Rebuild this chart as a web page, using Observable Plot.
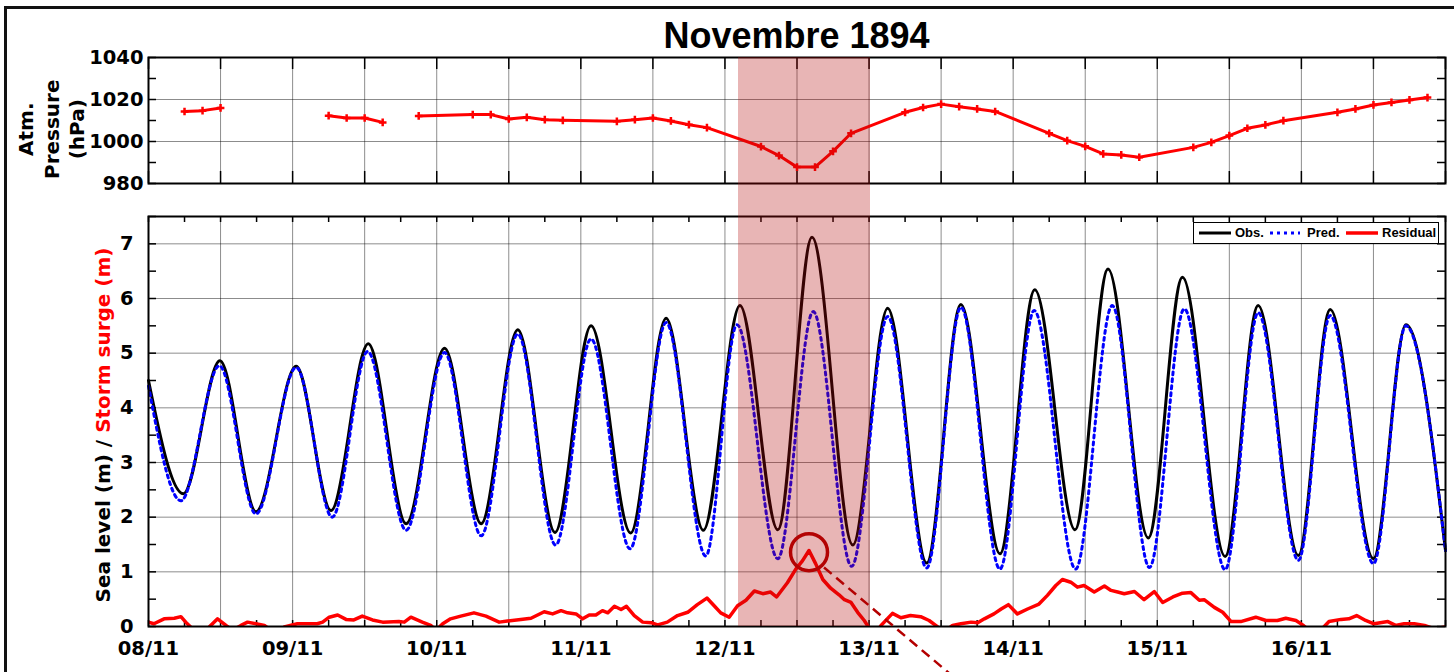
<!DOCTYPE html>
<html><head><meta charset="utf-8">
<script src="https://cdn.jsdelivr.net/npm/d3@7"></script>
<script src="https://cdn.jsdelivr.net/npm/@observablehq/plot@0.6"></script>
<style>
html,body{margin:0;padding:0;background:#fff;}
#wrap{position:relative;width:1454px;height:672px;overflow:hidden;background:#fff;}
.abs{position:absolute;}
#title{font-family:"Liberation Sans",Arial,sans-serif;font-weight:bold;font-size:36px;line-height:36px;text-align:center;}
.ylab{font-family:"DejaVu Sans",sans-serif;font-weight:bold;font-size:20px;text-align:center;transform:rotate(-90deg);transform-origin:50% 50%;white-space:nowrap;}
#legend{background:#fff;border:1.5px solid #000;box-sizing:border-box;font-family:"Liberation Sans",Arial,sans-serif;font-weight:bold;font-size:13px;}
#legend span{position:absolute;top:3px;line-height:14px;}
#legend svg{position:absolute;top:0;}
</style></head><body><div id="wrap"></div>
<script>
// ---- Atmospheric pressure (hPa), hours since 08/11/1894 00:00 (null = no reading, line break)
const pressureHours = [6,9,12,21,30,33,36,39,42,45,54,57,60,63,66,69,78,81,84,87,90,93,102,105,108,111,114,117,126,129,132,135,138,141,150,153,156,159,162,165,174,177,180,183,186,189,198,201,204,207,210,213];
const pressureHPa = [1014.3,1014.7,1016.0,null,1012.3,1011.2,1011.2,1009.1,null,1012.2,1012.8,1012.8,1010.7,1011.5,1010.4,1010.1,1009.6,1010.4,1011.2,1009.8,1008.0,1006.6,997.6,993.3,987.8,987.8,995.3,1003.9,1013.9,1016.2,1017.8,1016.6,1015.5,1014.3,1003.9,1000.4,997.7,994.1,993.6,992.5,997.2,999.6,1002.8,1006.3,1007.9,1009.9,1013.9,1015.5,1017.4,1018.6,1019.8,1020.9];

// ---- Observed sea level (m): high and low waters
const obsHours = [0,5.8,11.9,17.9,24.6,30.4,36.6,42.9,49.3,55.4,61.5,67.7,73.7,80.3,86.2,92.4,98.5,104.8,110.5,117.3,123.1,129.6,135.3,141.8,147.6,154.3,159.8,166.5,172.2,179.3,184.8,191.5,196.8,204.0,209.4,216];
const obsLevels = [4.50,2.43,4.86,2.10,4.76,2.12,5.17,1.88,5.09,1.88,5.43,1.72,5.50,1.71,5.64,1.76,5.87,1.77,7.12,1.49,5.82,1.16,5.89,1.33,6.16,1.77,6.54,1.62,6.39,1.28,5.87,1.30,5.80,1.24,5.52,1.39];

// ---- Predicted tide (m): high and low waters
const predHours = [0,5.4,11.8,17.9,24.6,30.6,36.5,42.9,49.3,55.4,61.5,67.8,73.7,80.2,86.2,92.8,98.0,104.8,110.7,117.1,123.1,129.6,135.3,141.8,147.5,154.4,160.5,166.7,172.5,179.3,184.8,191.5,196.8,204.0,209.4,216];
const predLevels = [4.40,2.30,4.77,2.06,4.74,2.00,5.03,1.76,5.01,1.66,5.35,1.49,5.26,1.42,5.56,1.29,5.52,1.24,5.76,1.10,5.67,1.07,5.84,1.05,5.78,1.05,5.87,1.08,5.81,1.04,5.74,1.21,5.69,1.15,5.50,1.39];

// ---- Residual / storm surge (m)
const residualHours = [0,0.9,2.6,4.3,5.4,6.2,7.3,8.7,10.1,11.5,12.9,14.0,15.4,16.5,17.9,19.3,20.4,21.5,22.6,24.8,28.1,29.0,30.1,31.5,32.9,34.2,35.6,37.3,39.0,41.7,42.6,43.7,45.6,47.0,47.9,49.0,50.3,52.0,54.2,56.2,58.4,59.8,62.0,63.7,65.9,67.3,68.7,69.8,71.2,72.3,73.4,74.5,75.6,76.5,77.6,78.7,79.6,80.9,82.3,83.7,84.8,86.4,88.1,89.8,91.4,93.0,94.2,95.3,96.7,98.1,99.5,100.9,102.3,103.6,104.6,106.4,107.8,108.9,110.0,111.1,112.3,113.6,115.0,115.9,117.0,118.1,119.2,119.9,120.9,122.0,123.9,125.3,126.9,128.6,130.0,131.1,132.5,133.9,135.3,137.0,138.1,139.2,140.8,142.0,143.2,144.7,146.4,148.3,149.7,151.1,152.2,153.6,154.7,155.8,157.5,159.2,160.3,161.4,162.5,164.2,165.8,167.5,168.9,170.6,172.2,173.6,175.0,175.8,177.5,178.9,180.3,181.9,184.4,186.1,188.0,189.4,191.1,192.2,193.6,195.2,196.6,198.6,199.9,201.2,202.7,204.1,206.4,207.7,209.1,210.8,212.5,214.1,216];
const residualMeters = [0.08,0.05,0.14,0.15,0.18,0.08,-0.04,-0.13,-0.01,0.14,0.02,-0.07,0.02,0.08,0.05,0.02,-0.07,-0.13,-0.01,0.05,0.05,0.08,0.17,0.21,0.13,0.12,0.19,0.12,0.08,0.09,0.08,0.17,0.08,0.02,-0.07,0.05,0.14,0.19,0.25,0.19,0.08,0.10,0.13,0.15,0.27,0.23,0.29,0.25,0.23,0.14,0.21,0.21,0.29,0.25,0.37,0.31,0.37,0.20,0.08,0.07,0.03,0.08,0.20,0.26,0.40,0.52,0.38,0.25,0.17,0.38,0.48,0.65,0.60,0.63,0.54,0.80,1.05,1.20,1.39,1.15,0.86,0.70,0.58,0.49,0.44,0.26,0.11,-0.01,-0.16,0.02,0.24,0.16,0.20,0.18,0.11,0.02,-0.10,0.02,0.05,0.08,0.07,0.14,0.23,0.32,0.40,0.23,0.32,0.41,0.57,0.75,0.86,0.81,0.72,0.75,0.63,0.74,0.66,0.63,0.60,0.64,0.49,0.64,0.44,0.54,0.61,0.62,0.48,0.49,0.35,0.26,0.09,0.09,0.17,0.11,0.11,0.15,0.11,0.03,-0.10,-0.07,0.09,0.13,0.14,0.20,0.11,0.05,0.09,0.02,0.05,0.05,0.02,-0.04,-0.01];

// ---- Annotations
const stormWindowHours = [98.3, 120.2];
const surgePeakHour = [110.0];
const surgePeakLevel = [1.36];
const pointerHours = [112.5, 134.8];
const pointerLevels = [1.08, -0.99];

// ---- Axis ticks
const pressureTicks = [980, 1000, 1020, 1040];
const pressureGrid = [1000, 1020];
const levelTicks = [0, 1, 2, 3, 4, 5, 6, 7];
const dayLabelHours = [0, 24, 48, 72, 96, 120, 144, 168, 192];
const titleText = "Novembre 1894";

// ---- Build
const t0 = Date.UTC(1894, 10, 8);
const toDate = h => new Date(t0 + h * 3600e3);
const xDomain = [toDate(0), toDate(216)];
const pressure = pressureHours.map((h, i) => ({t: toDate(h), p: pressureHPa[i]}));
const obs = obsHours.map((h, i) => ({t: toDate(h), v: obsLevels[i]}));
const pred = predHours.map((h, i) => ({t: toDate(h), v: predLevels[i]}));
const residual = residualHours.map((h, i) => ({t: toDate(h), v: residualMeters[i]}));
const gridHalfDays = d3.range(12, 216, 12).map(toDate);
const every12h = d3.range(0, 217, 12).map(toDate);
const every6h = d3.range(0, 217, 6).map(toDate);
const dayTicks = dayLabelHours.map(toDate);

const W = 1454, ML = 148, MR = 9;
const FW = W - ML - MR;
const font = {fontFamily: "DejaVu Sans, sans-serif", fontWeight: "bold", fontSize: "19.5px", color: "#000", background: "transparent", overflow: "visible"};
const gridStyle = {stroke: "#000", strokeOpacity: 0.45, strokeWidth: 1};
const tickStyle = {stroke: "#000", strokeWidth: 1.5};
const plain = d => String(d);

// Top panel: pressure
const TH = 200, TMT = 57, TMB = 17, TFH = TH - TMT - TMB;
const topPlot = Plot.plot({
  width: W, height: TH, marginLeft: ML, marginRight: MR, marginTop: TMT, marginBottom: TMB,
  style: font,
  x: {type: "utc", domain: xDomain, axis: null},
  y: {domain: [980, 1040]},
  marks: [
    Plot.gridX(gridHalfDays, {x: d => d, ...gridStyle}),
    Plot.gridY(pressureGrid, {y: d => d, ...gridStyle}),
    Plot.tickY(d3.range(980, 1041, 10), {y: d => d, insetRight: FW - 8, ...tickStyle}),
    Plot.tickY(d3.range(980, 1041, 10), {y: d => d, insetLeft: FW - 8, ...tickStyle}),
    Plot.tickX(every12h, {x: d => d, insetBottom: TFH - 12, ...tickStyle}),
    Plot.tickX(every12h, {x: d => d, insetTop: TFH - 12, ...tickStyle}),
    Plot.line(pressure, {x: "t", y: "p", stroke: "#ff0000", strokeWidth: 3}),
    Plot.dot(pressure.filter(d => d.p != null), {x: "t", y: "p", symbol: "plus", stroke: "#ff0000", fill: "none", strokeWidth: 2.5, r: 2.6}),
    Plot.axisY(pressureTicks, {tickSize: 0, tickPadding: 5, tickFormat: plain, label: null}),
    Plot.frame({stroke: "#000", strokeWidth: 2})
  ]
});

// Lower panel: sea level
const LH = 472, LMT = 16, LMB = 46, LFH = LH - LMT - LMB, LTOP = 200;
const lowPlot = Plot.plot({
  width: W, height: LH, marginLeft: ML, marginRight: MR, marginTop: LMT, marginBottom: LMB,
  style: font,
  x: {type: "utc", domain: xDomain},
  y: {domain: [0, 7.5]},
  marks: [
    Plot.gridX(gridHalfDays, {x: d => d, ...gridStyle}),
    Plot.gridY(levelTicks.slice(1), {y: d => d, ...gridStyle}),
    Plot.tickY(d3.range(0, 7.51, 0.5), {y: d => d, insetRight: FW - 8, ...tickStyle}),
    Plot.tickY(d3.range(0, 7.51, 0.5), {y: d => d, insetLeft: FW - 8, ...tickStyle}),
    Plot.tickX(every6h, {x: d => d, insetBottom: LFH - 6, ...tickStyle}),
    Plot.tickX(every6h, {x: d => d, insetTop: LFH - 6, ...tickStyle}),
    Plot.line(obs, {x: "t", y: "v", stroke: "#000", strokeWidth: 3, curve: "monotone-x"}),
    Plot.line(pred, {x: "t", y: "v", stroke: "#0000ff", strokeWidth: 3, strokeDasharray: "3,4", curve: "monotone-x"}),
    Plot.line(residual, {x: "t", y: "v", stroke: "#ff0000", strokeWidth: 3.5, clip: true}),
    Plot.axisY(levelTicks, {tickSize: 0, tickPadding: 15, tickFormat: plain, label: null}),
    Plot.axisX(dayTicks, {tickSize: 0, tickPadding: 15, tickFormat: d3.utcFormat("%d/%m"), label: null}),
    Plot.frame({stroke: "#000", strokeWidth: 2}),
    Plot.dot(surgePeakHour.map((h, i) => ({t: toDate(h), v: surgePeakLevel[i]})), {x: "t", y: "v", r: 18.5, stroke: "#b40000", strokeWidth: 3.5, fill: "none"}),
    Plot.link([0], {x1: () => toDate(pointerHours[0]), y1: () => pointerLevels[0], x2: () => toDate(pointerHours[1]), y2: () => pointerLevels[1], stroke: "#b40000", strokeWidth: 2.5, strokeDasharray: "10,6"})
  ]
});

const wrap = document.getElementById("wrap");
topPlot.classList.add("abs"); topPlot.style.left = "0px"; topPlot.style.top = "0px";
lowPlot.classList.add("abs"); lowPlot.style.left = "0px"; lowPlot.style.top = LTOP + "px";
wrap.appendChild(lowPlot);
wrap.appendChild(topPlot);

// outer frame lines
const fTop = document.createElement("div"); fTop.className = "abs";
Object.assign(fTop.style, {left: "4px", top: "6px", width: "1450px", height: "3px", background: "#111"});
const fLeft = document.createElement("div"); fLeft.className = "abs";
Object.assign(fLeft.style, {left: "4px", top: "6px", width: "3px", height: "666px", background: "#111"});
wrap.appendChild(fTop); wrap.appendChild(fLeft);

// Title
const xs = lowPlot.scale("x");
const title = document.createElement("div"); title.id = "title"; title.className = "abs";
title.textContent = titleText;
const cx = (xs.apply(xDomain[0]) + xs.apply(xDomain[1])) / 2;
Object.assign(title.style, {left: (cx - 300) + "px", width: "600px", top: "18px"});
wrap.appendChild(title);

// Y labels
const yl1 = document.createElement("div"); yl1.className = "abs ylab";
yl1.innerHTML = '<span style="color:#000">Sea level (m) / </span><span style="color:#ff0000">Storm surge (m)</span>';
Object.assign(yl1.style, {left: (103 - 250) + "px", top: (425 - 12) + "px", width: "500px", height: "24px", lineHeight: "24px"});
wrap.appendChild(yl1);
const yl2 = document.createElement("div"); yl2.className = "abs ylab";
yl2.innerHTML = 'Atm.<br>Pressure<br>(hPa)';
Object.assign(yl2.style, {left: (52 - 70) + "px", top: (129 - 38.25) + "px", width: "140px", height: "76.5px", lineHeight: "25.5px"});
wrap.appendChild(yl2);

// Storm band (semi-transparent overlay across both panels)
const yTop = topPlot.scale("y").apply(1040);
const yBot = lowPlot.scale("y").apply(0) + LTOP;
const bx0 = xs.apply(toDate(stormWindowHours[0])), bx1 = xs.apply(toDate(stormWindowHours[1]));
const band = document.createElement("div"); band.className = "abs";
Object.assign(band.style, {left: bx0 + "px", width: (bx1 - bx0) + "px", top: yTop + "px", height: (yBot - yTop) + "px", background: "rgb(180,10,10)", opacity: "0.3", pointerEvents: "none"});
wrap.appendChild(band);

// Legend
const lg = document.createElement("div"); lg.id = "legend"; lg.className = "abs";
Object.assign(lg.style, {left: "1193px", top: "222px", width: "246px", height: "22px"});
lg.innerHTML =
  '<svg style="left:4px" width="34" height="20"><line x1="1" x2="33" y1="10" y2="10" stroke="#000" stroke-width="3"/></svg>' +
  '<span style="left:41px">Obs.</span>' +
  '<svg style="left:76px" width="30" height="20"><line x1="0" x2="30" y1="10" y2="10" stroke="#0000ff" stroke-width="3" stroke-dasharray="3,4"/></svg>' +
  '<span style="left:113px">Pred.</span>' +
  '<svg style="left:151px" width="34" height="20"><line x1="1" x2="33" y1="10" y2="10" stroke="#ff0000" stroke-width="3.5"/></svg>' +
  '<span style="left:188px">Residual</span>';
wrap.appendChild(lg);
</script>
</body></html>
